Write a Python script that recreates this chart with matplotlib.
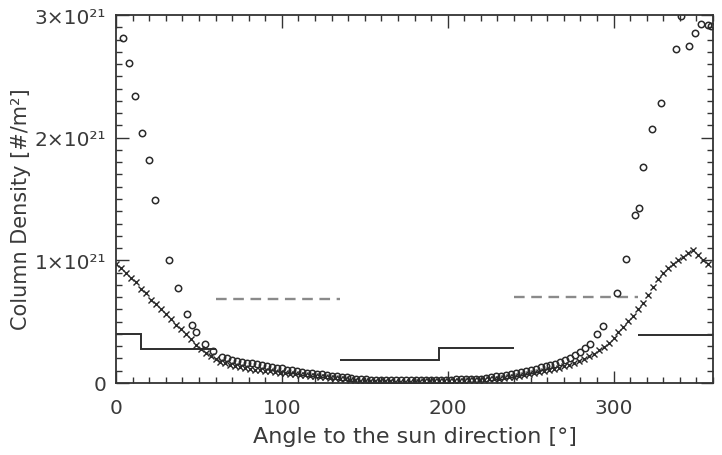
import matplotlib
matplotlib.use("Agg")
import matplotlib.pyplot as plt
from matplotlib.ticker import MultipleLocator

plt.rcParams['font.family'] = ['DejaVu Sans']

# ---------------- data (column density in units of 1e21 #/m^2) ----------------
cross_angle = [0, 3, 6, 9, 12, 15, 18, 21, 24, 27, 30, 33, 36, 39, 42, 45, 48, 51, 54, 57,
               60, 63, 66, 69, 72, 75, 78, 81, 84, 87, 90, 93, 96, 99, 102, 105, 108, 111, 114, 117,
               120, 123, 126, 129, 132, 135, 138, 141, 144, 147, 150, 153, 156, 159, 162, 165, 168, 171, 174, 177,
               180, 183, 186, 189, 192, 195, 198, 201, 204, 207, 210, 213, 216, 219, 222, 225, 228, 231, 234, 237,
               240, 243, 246, 249, 252, 255, 258, 261, 264, 267, 270, 273, 276, 279, 282, 285, 288, 291, 294, 297,
               300, 303, 306, 309, 312, 315, 318, 321, 324, 327, 330, 333, 336, 339, 342, 345, 348, 351, 354, 357]
cross_value = [0.97, 0.94, 0.90, 0.86, 0.82, 0.77, 0.73, 0.68, 0.64, 0.60, 0.56, 0.52, 0.475, 0.44, 0.40, 0.355, 0.31, 0.275, 0.245, 0.22,
               0.195, 0.175, 0.16, 0.15, 0.14, 0.13, 0.125, 0.115, 0.11, 0.105, 0.10, 0.095, 0.09, 0.085, 0.08, 0.075, 0.07, 0.068, 0.062, 0.058,
               0.055, 0.05, 0.045, 0.042, 0.038, 0.035, 0.03, 0.027, 0.024, 0.02, 0.018, 0.016, 0.015, 0.014, 0.013, 0.013, 0.012, 0.012, 0.012, 0.012,
               0.012, 0.012, 0.013, 0.013, 0.014, 0.015, 0.016, 0.017, 0.018, 0.019, 0.02, 0.021, 0.022, 0.024, 0.026, 0.029, 0.032, 0.036, 0.04, 0.045,
               0.05, 0.056, 0.063, 0.07, 0.078, 0.087, 0.096, 0.106, 0.116, 0.126, 0.138, 0.15, 0.165, 0.18, 0.198, 0.218, 0.24, 0.265, 0.295, 0.33,
               0.37, 0.415, 0.46, 0.505, 0.55, 0.60, 0.655, 0.72, 0.785, 0.845, 0.895, 0.935, 0.97, 1.00, 1.03, 1.06, 1.085, 1.04, 1.00, 0.97]

circle_angle = [4.0, 8.0, 11.5, 15.7, 20.1, 23.7, 31.9, 37.4, 42.8, 46.0, 48.2, 53.6, 58.6,
                64, 67, 70, 73, 76, 79, 82, 85, 88, 91, 94, 97, 100, 103, 106, 109, 112, 115, 118,
                121, 124, 127, 130, 133, 136, 139, 142, 145, 148, 151, 154, 157, 160, 163, 166, 169,
                172, 175, 178, 181, 184, 187, 190, 193, 196, 199, 202, 205, 208, 211, 214, 217, 220,
                223, 226, 229, 232, 235, 238, 241, 244, 247, 250, 253, 256, 259, 262, 265, 268, 271,
                274, 277, 280, 283, 286, 290.1, 293.4,
                302.4, 307.4, 312.7, 315.4, 317.8, 323.5, 328.9, 337.4, 341.0, 345.4, 349.4, 353.0, 356.8, 359.0]
circle_value = [2.81, 2.61, 2.34, 2.04, 1.82, 1.49, 1.00, 0.777, 0.562, 0.473, 0.418, 0.32, 0.263,
                0.215, 0.205, 0.19, 0.18, 0.175, 0.165, 0.16, 0.155, 0.145, 0.14, 0.13, 0.125, 0.12, 0.11, 0.105, 0.095, 0.09, 0.085, 0.08,
                0.075, 0.07, 0.065, 0.06, 0.055, 0.05, 0.045, 0.04, 0.036, 0.033, 0.03, 0.028, 0.027, 0.026, 0.026, 0.025, 0.025,
                0.025, 0.025, 0.026, 0.026, 0.026, 0.027, 0.027, 0.027, 0.028, 0.028, 0.028, 0.029, 0.029, 0.03, 0.03, 0.032, 0.036,
                0.042, 0.048, 0.053, 0.058, 0.064, 0.07, 0.078, 0.087, 0.097, 0.108, 0.118, 0.128, 0.138, 0.148, 0.158, 0.17, 0.185,
                0.205, 0.225, 0.25, 0.285, 0.32, 0.397, 0.467,
                0.731, 1.01, 1.37, 1.43, 1.76, 2.07, 2.28, 2.72, 2.99, 2.75, 2.85, 2.93, 2.92, 2.91]

# step (solid) segments: edges and values
solid_edges = [[0, 15, 60], [135, 195, 240], [315, 360]]
solid_values = [[0.40, 0.28], [0.187, 0.285], [0.39]]
# dashed segments
dashed_edges = [[60, 135], [240, 315]]
dashed_values = [[0.685], [0.70]]

x_ticks = [0, 100, 200, 300]
y_ticks = [0, 1, 2, 3]
y_ticklabels = ['0', '1×10²¹', '2×10²¹', '3×10²¹']

# ---------------- figure ----------------
W, H = 722, 456
fig = plt.figure(figsize=(W / 100, H / 100), dpi=100)
ax = fig.add_axes([116 / W, (H - 384) / H, (713 - 116) / W, (384 - 16) / H])

txt = '#3a3a3a'
ax.plot(cross_angle, cross_value, linestyle='none', marker='x', markersize=3.8,
        markeredgewidth=1.0, color='#2a2a2a')
ax.plot(circle_angle, circle_value, linestyle='none', marker='o', markersize=4.6,
        markerfacecolor='none', markeredgewidth=1.1, markeredgecolor='#2a2a2a')

for e, v in zip(solid_edges, solid_values):
    ax.stairs(v, e, baseline=None, color='#2e2e2e', linewidth=1.4)
for e, v in zip(dashed_edges, dashed_values):
    ax.stairs(v, e, baseline=None, color='#8a8a8a', linewidth=1.7,
              linestyle=(0, (4.5, 2.8)))

ax.set_xlim(0, 360)
ax.set_ylim(0, 3)
ax.set_xticks(x_ticks)
ax.set_xticklabels([str(t) for t in x_ticks])
ax.set_yticks(y_ticks)
ax.set_yticklabels(y_ticklabels)
ax.xaxis.set_minor_locator(MultipleLocator(10))
ax.yaxis.set_minor_locator(MultipleLocator(0.1))

ax.tick_params(which='both', direction='in', top=True, right=True, color='#333333',
               labelsize=14.5, labelcolor=txt, width=1.0)
ax.tick_params(which='major', length=9, pad=7)
ax.tick_params(axis='x', which='major', pad=11)
ax.tick_params(which='minor', length=4.5)
for s in ax.spines.values():
    s.set_color('#333333')
    s.set_linewidth(1.3)

ax.set_xlabel('Angle to the sun direction [°]', fontsize=16, color=txt, labelpad=6)
ax.set_ylabel('Column Density [#/m²]', fontsize=15, color=txt)
ax.yaxis.set_label_coords(-0.142, 0.475)

fig.savefig('out.png', dpi=100)
